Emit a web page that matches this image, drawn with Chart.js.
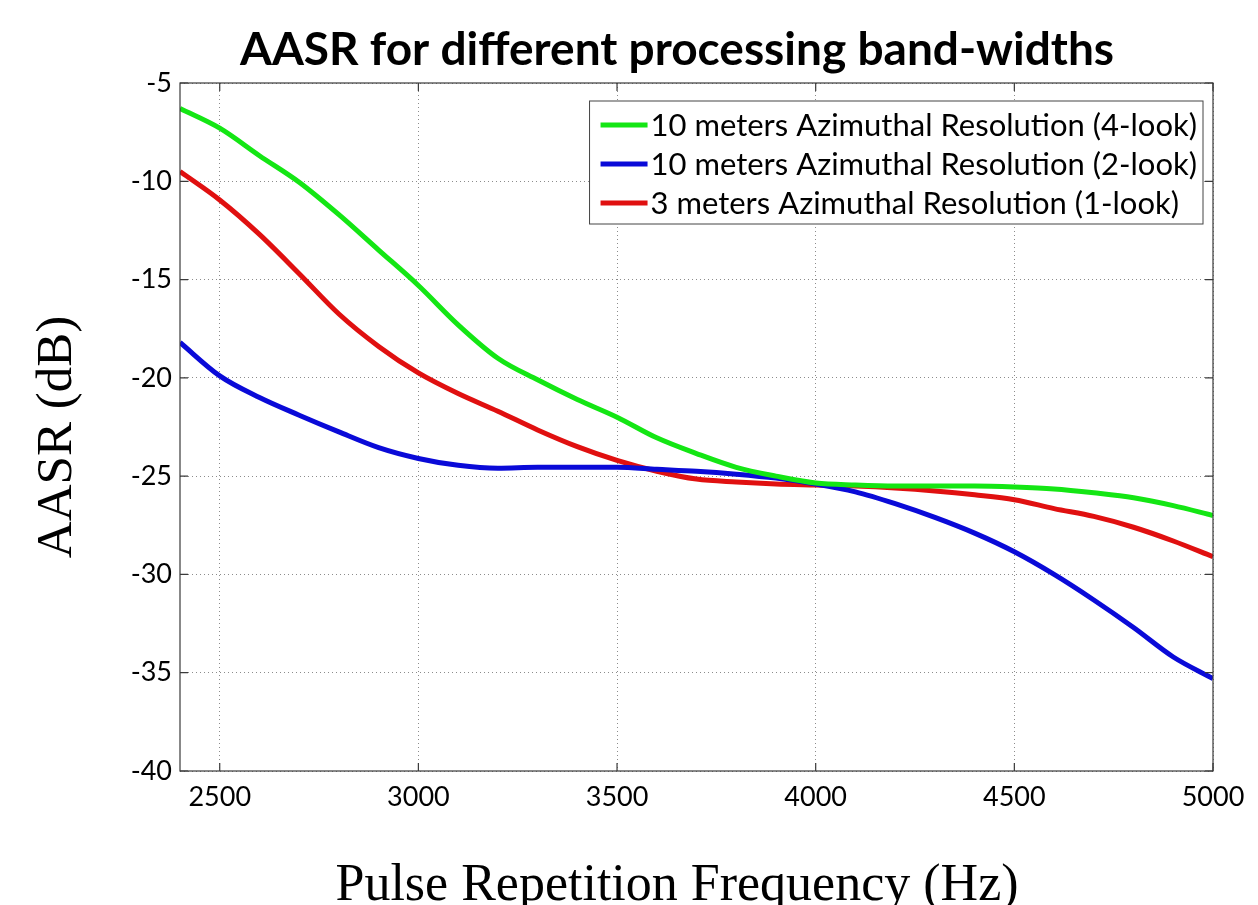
<!DOCTYPE html>
<html>
<head>
<meta charset="utf-8">
<title>AASR for different processing band-widths</title>
<script src="https://cdn.jsdelivr.net/npm/chart.js@4.4.1/dist/chart.umd.min.js"></script>
<style>
  html, body { margin: 0; padding: 0; background: #fff; }
  #wrap { width: 1258px; height: 905px; position: relative; }
</style>
</head>
<body>
<div id="wrap"><canvas id="aasrChart"></canvas></div>
<script>
// PRF samples (Hz)
const prf = [2400, 2500, 2600, 2700, 2800, 2900, 3000, 3100, 3200, 3300, 3400, 3500, 3600,
             3700, 3800, 3900, 4000, 4100, 4200, 4300, 4400, 4500, 4600, 4700, 4800, 4900, 5000];

// AASR (dB)
const look4 = [-6.3, -7.3, -8.7, -10.05, -11.7, -13.5, -15.3, -17.3, -19.0, -20.1, -21.1, -22.0, -23.05,
               -23.85, -24.55, -25.0, -25.35, -25.45, -25.5, -25.5, -25.5, -25.55, -25.65, -25.85, -26.1, -26.5, -27.0];
const look2 = [-18.2, -19.9, -21.0, -21.9, -22.75, -23.55, -24.1, -24.45, -24.6, -24.55, -24.55, -24.55, -24.65,
               -24.75, -24.9, -25.1, -25.4, -25.8, -26.4, -27.1, -27.9, -28.85, -30.0, -31.3, -32.7, -34.2, -35.3];
const look1 = [-9.5, -10.95, -12.7, -14.7, -16.75, -18.4, -19.75, -20.8, -21.7, -22.65, -23.5, -24.2, -24.75,
               -25.15, -25.3, -25.4, -25.45, -25.5, -25.6, -25.75, -25.95, -26.2, -26.65, -27.05, -27.6, -28.3, -29.1];

const seriesLabels = [
    '10 meters Azimuthal Resolution (4-look)',
    '10 meters Azimuthal Resolution (2-look)',
    '3 meters Azimuthal Resolution (1-look)'
];
const seriesColors = ['#14e614', '#0a0ad8', '#e01010'];

const xTicks = [2500, 3000, 3500, 4000, 4500, 5000];
const yTicks = [-40, -35, -30, -25, -20, -15, -10, -5];

const titleText = 'AASR for different processing band-widths';
const xTitle = 'Pulse Repetition Frequency (Hz)';
const yTitle = 'AASR (dB)';

const tickFont = { family: 'Lato', size: 27 };

// box round the plot with small inward ticks, matlab style
const framePlugin = {
    id: 'frame',
    afterDraw(chart) {
        const { ctx, chartArea: a, scales } = chart;
        ctx.save();
        ctx.strokeStyle = '#3a3a3a';
        ctx.lineWidth = 1.2;
        ctx.strokeRect(a.left, a.top, a.right - a.left, a.bottom - a.top);
        const tl = 8;
        ctx.beginPath();
        xTicks.forEach(v => {
            const px = scales.x.getPixelForValue(v);
            ctx.moveTo(px, a.bottom); ctx.lineTo(px, a.bottom - tl);
            ctx.moveTo(px, a.top); ctx.lineTo(px, a.top + tl);
        });
        yTicks.forEach(v => {
            const py = scales.y.getPixelForValue(v);
            ctx.moveTo(a.left, py); ctx.lineTo(a.left + tl, py);
            ctx.moveTo(a.right, py); ctx.lineTo(a.right - tl, py);
        });
        ctx.stroke();
        ctx.restore();
    }
};

// title and axis titles, placed like the matlab figure (not centred on the plot)
const figureText = {
    id: 'figureText',
    afterDraw(chart) {
        const { ctx } = chart;
        ctx.save();
        ctx.fillStyle = '#000';
        ctx.textAlign = 'center';
        ctx.textBaseline = 'alphabetic';
        ctx.font = 'bold 46px Lato';
        ctx.fillText(titleText, 677, 65);
        ctx.font = '52px "Liberation Serif"';
        ctx.fillText(xTitle, 677, 900);
        ctx.translate(71, 437);
        ctx.rotate(-Math.PI / 2);
        ctx.font = '51px "Liberation Serif"';
        ctx.fillText(yTitle, 0, 0);
        ctx.restore();
    }
};

// legend box in the top right corner of the plot
const boxLegend = {
    id: 'boxLegend',
    afterDraw(chart) {
        const { ctx, chartArea: a } = chart;
        const sets = chart.data.datasets;
        ctx.save();
        ctx.font = '31px Lato';
        const textW = Math.max(...sets.map(d => ctx.measureText(d.label).width));
        const lineLen = 47, gap = 3, padL = 11, padR = 6, rowH = 39;
        const w = padL + lineLen + gap + textW + padR;
        const h = 123;
        const right = a.right - 10, top = a.top + 18;
        const left = right - w;
        ctx.fillStyle = '#fff';
        ctx.fillRect(left, top, w, h);
        ctx.strokeStyle = '#444';
        ctx.lineWidth = 1;
        ctx.strokeRect(left, top, w, h);
        ctx.textBaseline = 'middle';
        ctx.fillStyle = '#000';
        sets.forEach((d, i) => {
            const y = top + 24 + i * rowH;
            ctx.strokeStyle = d.borderColor;
            ctx.lineWidth = 5;
            ctx.beginPath();
            ctx.moveTo(left + padL, y);
            ctx.lineTo(left + padL + lineLen, y);
            ctx.stroke();
            ctx.fillText(d.label, left + padL + lineLen + gap, y + 1);
        });
        ctx.restore();
    }
};

function makeSet(label, values, color) {
    return {
        label: label,
        data: prf.map((x, i) => ({ x: x, y: values[i] })),
        borderColor: color,
        backgroundColor: color,
        borderWidth: 5,
        pointRadius: 0,
        cubicInterpolationMode: 'monotone',
        fill: false
    };
}

function initAasrChart() {
    const ctx = document.getElementById('aasrChart').getContext('2d');
    new Chart(ctx, {
        type: 'line',
        data: {
            datasets: [
                makeSet(seriesLabels[0], look4, seriesColors[0]),
                makeSet(seriesLabels[1], look2, seriesColors[1]),
                makeSet(seriesLabels[2], look1, seriesColors[2])
            ]
        },
        options: {
            responsive: true,
            maintainAspectRatio: false,
            animation: false,
            layout: { padding: { left: 0, right: 45, top: 83, bottom: 0 } },
            plugins: {
                legend: { display: false },
                tooltip: { enabled: false },
                title: { display: false }
            },
            scales: {
                x: {
                    type: 'linear',
                    min: 2400,
                    max: 5000,
                    afterBuildTicks: s => { s.ticks = xTicks.map(v => ({ value: v })); },
                    afterFit: s => { s.height = 134; },
                    grid: { color: '#8c8c8c', lineWidth: 1, drawTicks: false },
                    border: { display: false, dash: [1, 3] },
                    ticks: {
                        padding: 10, color: '#000', font: tickFont, maxRotation: 0, autoSkip: false,
                        callback: v => String(v)
                    }
                },
                y: {
                    min: -40,
                    max: -5,
                    afterBuildTicks: s => { s.ticks = yTicks.map(v => ({ value: v })); },
                    afterFit: s => { s.width = 180; },
                    grid: { color: '#8c8c8c', lineWidth: 1, drawTicks: false },
                    border: { display: false, dash: [1, 3] },
                    ticks: { padding: 8, color: '#000', font: tickFont }
                }
            }
        },
        plugins: [framePlugin, boxLegend, figureText]
    });
}

document.addEventListener('DOMContentLoaded', initAasrChart);
</script>
</body>
</html>
